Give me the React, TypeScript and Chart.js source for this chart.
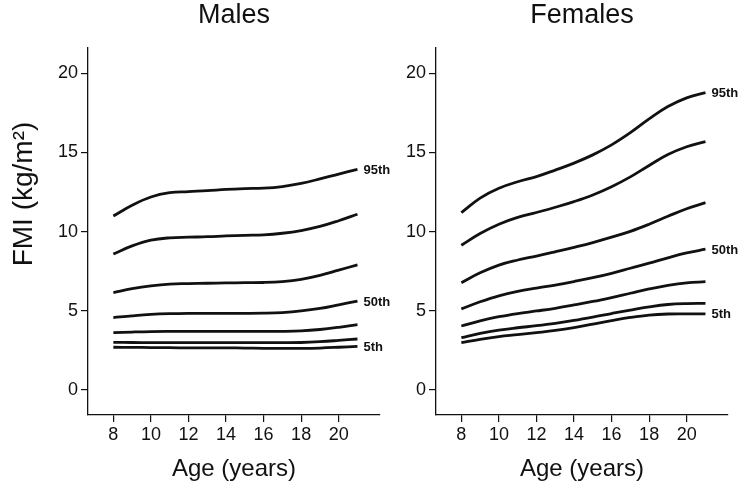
import React, { useEffect, useRef } from "react";
import { Chart, registerables } from "chart.js";

Chart.register(...registerables);

const AGES = [8, 9, 10, 11, 12, 13, 14, 15, 16, 17, 18, 19, 20, 21];
const PERCENTILES = ["5th", "10th", "25th", "50th", "75th", "90th", "95th"];
const LABELLED = ["5th", "50th", "95th"];
const X_TICKS = [8, 10, 12, 14, 16, 18, 20];
const Y_TICKS = [0, 5, 10, 15, 20];

const MALE_5TH = [2.7, 2.69, 2.68, 2.67, 2.66, 2.66, 2.66, 2.65, 2.63, 2.63, 2.63, 2.65, 2.7, 2.76];
const MALE_10TH = [3.01, 3.0, 2.99, 2.99, 2.99, 2.99, 2.99, 2.99, 2.99, 2.99, 3.0, 3.05, 3.13, 3.22];
const MALE_25TH = [3.62, 3.66, 3.69, 3.7, 3.7, 3.7, 3.7, 3.7, 3.7, 3.7, 3.73, 3.82, 3.96, 4.13];
const MALE_50TH = [4.57, 4.68, 4.77, 4.82, 4.84, 4.84, 4.84, 4.84, 4.85, 4.89, 4.99, 5.15, 5.38, 5.62];
const MALE_75TH = [6.15, 6.4, 6.58, 6.69, 6.72, 6.74, 6.76, 6.78, 6.79, 6.85, 6.99, 7.24, 7.57, 7.9];
const MALE_90TH = [8.59, 9.1, 9.46, 9.61, 9.65, 9.68, 9.73, 9.77, 9.8, 9.9, 10.07, 10.33, 10.69, 11.1];
const MALE_95TH = [10.99, 11.67, 12.19, 12.46, 12.53, 12.59, 12.67, 12.72, 12.75, 12.85, 13.05, 13.33, 13.64, 13.94];

const FEMALE_5TH = [2.99, 3.2, 3.37, 3.49, 3.62, 3.76, 3.94, 4.16, 4.38, 4.58, 4.73, 4.8, 4.81, 4.81];
const FEMALE_10TH = [3.3, 3.57, 3.78, 3.93, 4.06, 4.21, 4.39, 4.6, 4.83, 5.05, 5.25, 5.4, 5.46, 5.47];
const FEMALE_25TH = [4.04, 4.37, 4.63, 4.83, 4.99, 5.16, 5.37, 5.59, 5.84, 6.11, 6.38, 6.61, 6.77, 6.84];
const FEMALE_50TH = [5.12, 5.57, 5.95, 6.23, 6.44, 6.63, 6.85, 7.09, 7.37, 7.69, 8.01, 8.35, 8.66, 8.89];
const FEMALE_75TH = [6.78, 7.4, 7.89, 8.21, 8.46, 8.73, 9.01, 9.31, 9.65, 10.02, 10.47, 10.97, 11.45, 11.83];
const FEMALE_90TH = [9.14, 9.88, 10.47, 10.9, 11.21, 11.54, 11.9, 12.32, 12.84, 13.46, 14.18, 14.87, 15.36, 15.69];
const FEMALE_95TH = [11.2, 12.12, 12.74, 13.15, 13.48, 13.89, 14.33, 14.85, 15.48, 16.25, 17.12, 17.9, 18.45, 18.78];

const MALE_SERIES = [MALE_5TH, MALE_10TH, MALE_25TH, MALE_50TH, MALE_75TH, MALE_90TH, MALE_95TH];
const FEMALE_SERIES = [FEMALE_5TH, FEMALE_10TH, FEMALE_25TH, FEMALE_50TH, FEMALE_75TH, FEMALE_90TH, FEMALE_95TH];

const FONT = "'Liberation Sans', Arial, Helvetica, sans-serif";
const INK = "#111111";

type PanelProps = {
  title: string;
  series: number[][];
  yTitle?: string;
  left: number;
  width: number;
  axisLeft: number;
  axisRight: number;
};

function Panel({ title, series, yTitle, left, width, axisLeft, axisRight }: PanelProps) {
  const ref = useRef<HTMLCanvasElement | null>(null);

  useEffect(() => {
    const canvas = ref.current;
    if (!canvas) return;
    const H = 485;
    const top = 48;
    const bottom = 415;

    const textPlugin = {
      id: "panelText",
      afterDraw(chart: any) {
        const ctx = chart.ctx;
        const ca = chart.chartArea;
        const cx = (ca.left + ca.right) / 2;
        ctx.save();
        ctx.fillStyle = INK;
        ctx.textAlign = "center";
        ctx.textBaseline = "alphabetic";
        ctx.font = `27px ${FONT}`;
        ctx.fillText(title, cx, 23);
        ctx.font = `24px ${FONT}`;
        ctx.fillText("Age (years)", cx, 476);
        if (yTitle) {
          ctx.save();
          ctx.translate(32, 194);
          ctx.rotate(-Math.PI / 2);
          ctx.font = `28px ${FONT}`;
          ctx.textAlign = "center";
          ctx.fillText(yTitle, 0, 0);
          ctx.restore();
        }
        ctx.font = `bold 13px ${FONT}`;
        ctx.textAlign = "left";
        ctx.textBaseline = "middle";
        chart.data.datasets.forEach((ds: any, i: number) => {
          if (!LABELLED.includes(ds.label)) return;
          const meta = chart.getDatasetMeta(i);
          const last = meta.data[meta.data.length - 1];
          ctx.fillText(ds.label, last.x + 6, last.y + 1);
        });
        ctx.restore();
      },
    };

    const chart = new Chart(canvas, {
      type: "line",
      data: {
        datasets: series.map((vals, i) => ({
          label: PERCENTILES[i],
          data: AGES.map((a, j) => ({ x: a, y: vals[j] })),
          borderColor: INK,
          borderWidth: 2.8,
          pointRadius: 0,
          fill: false,
          tension: 0.4,
        })),
      },
      options: {
        responsive: false,
        animation: false,
        events: [],
        layout: { padding: { top, bottom: 0, left: 0, right: width - axisRight } },
        plugins: { legend: { display: false }, tooltip: { enabled: false }, title: { display: false } },
        scales: {
          x: {
            type: "linear",
            min: 6.65,
            max: 22.2,
            afterBuildTicks: (s: any) => {
              s.ticks = X_TICKS.map((v) => ({ value: v }));
            },
            afterFit: (s: any) => {
              s.height = H - bottom;
            },
            border: { display: true, color: INK, width: 1.3 },
            grid: { drawOnChartArea: false, drawTicks: true, tickLength: 7, color: INK, lineWidth: 1.2 },
            ticks: { color: INK, font: { family: FONT, size: 18 }, padding: 2, maxRotation: 0, autoSkip: false },
          },
          y: {
            type: "linear",
            min: -1.58,
            max: 21.6,
            afterBuildTicks: (s: any) => {
              s.ticks = Y_TICKS.map((v) => ({ value: v }));
            },
            afterFit: (s: any) => {
              s.width = axisLeft;
            },
            border: { display: true, color: INK, width: 1.3 },
            grid: { drawOnChartArea: false, drawTicks: true, tickLength: 7, color: INK, lineWidth: 1.2 },
            ticks: { color: INK, font: { family: FONT, size: 18 }, padding: 3, autoSkip: false },
          },
        },
      },
      plugins: [textPlugin],
    });
    return () => chart.destroy();
  }, [title, series, yTitle, width, axisLeft, axisRight]);

  return (
    <canvas
      ref={ref}
      width={width}
      height={485}
      style={{ position: "absolute", left, top: 0, width, height: 485, display: "block" }}
    />
  );
}

export default function App() {
  return (
    <div style={{ position: "fixed", left: 0, top: 0, width: 738, height: 485, background: "#fff", overflow: "hidden" }}>
      <Panel title="Males" series={MALE_SERIES} yTitle="FMI (kg/m²)" left={0} width={395} axisLeft={88} axisRight={380} />
      <Panel title="Females" series={FEMALE_SERIES} left={395} width={343} axisLeft={41} axisRight={333} />
    </div>
  );
}
